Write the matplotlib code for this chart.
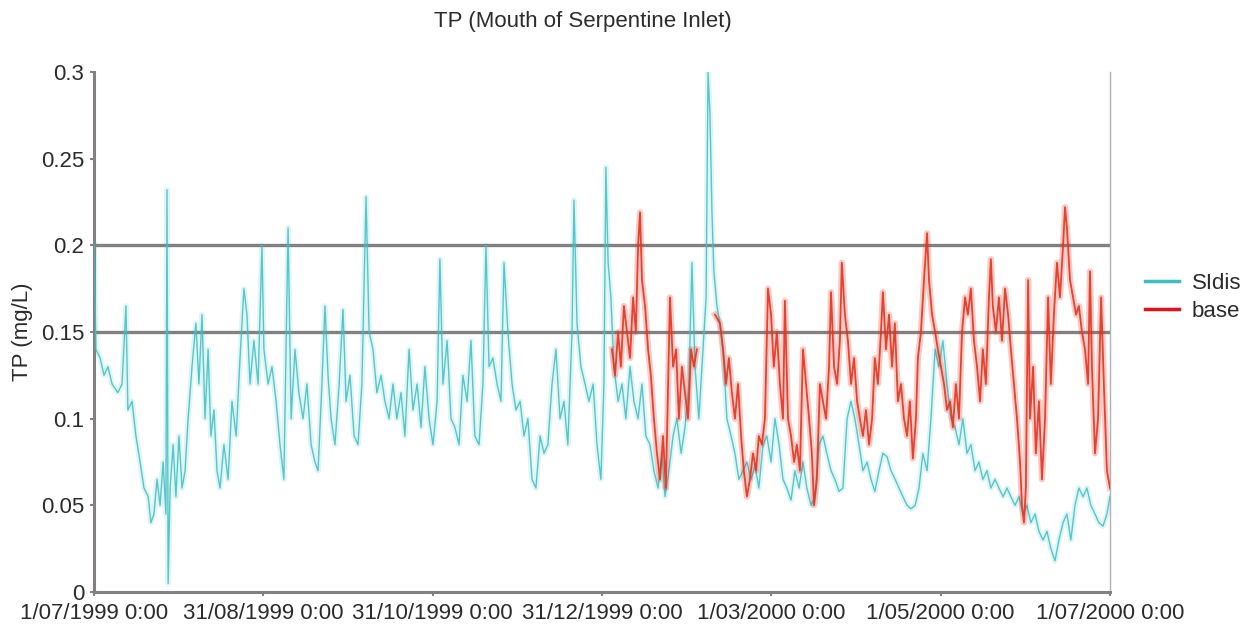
import matplotlib
matplotlib.use('Agg')
import matplotlib.pyplot as plt
import numpy as np
import pandas as pd

# TP at the mouth of Serpentine Inlet
# (day offset from 1/07/1999, TP in mg/L)
start = pd.Timestamp('1999-07-01')

sldis_days = [0.0, 0.7, 2.2, 3.6, 5.0, 6.5, 8.6, 10.1, 11.5, 12.2, 13.7, 15.1, 16.6, 18.0,
              19.5, 20.5, 21.6, 22.7, 23.8, 24.9, 25.9, 26.3, 26.7, 27.4, 28.5, 29.5, 30.6,
              31.7, 32.8, 33.9, 35.3, 36.7, 37.8, 38.9, 40.0, 41.1, 42.1, 43.2, 44.3, 45.4,
              46.8, 48.3, 49.7, 51.2, 52.6, 54.0, 55.1, 56.2, 57.6, 59.1, 60.5, 61.2, 62.7,
              64.1, 65.6, 67.0, 68.4, 69.9, 71.0, 72.4, 73.8, 75.3, 76.7, 78.2, 79.6, 80.7,
              82.1, 83.2, 84.3, 85.4, 86.8, 88.3, 89.7, 90.8, 92.2, 93.7, 95.1, 96.5, 98.0,
              99.1, 100.5, 101.9, 103.4, 104.8, 106.3, 107.7, 109.1, 110.6, 112.0, 113.5,
              114.9, 116.4, 117.8, 119.2, 120.7, 122.1, 123.6, 124.6, 125.7, 127.2, 128.6,
              130.0, 131.5, 132.9, 134.4, 135.8, 137.2, 138.7, 140.1, 141.2, 142.3, 143.7,
              145.2, 146.6, 147.7, 149.1, 150.6, 152.0, 153.5, 154.9, 156.3, 157.8, 159.2,
              160.7, 162.1, 163.5, 165.0, 166.4, 167.9, 169.3, 170.7, 172.2, 172.9, 174.0,
              175.4, 176.9, 178.3, 179.8, 181.2, 182.6, 183.7, 184.4, 185.2, 186.2, 187.3,
              188.8, 190.2, 191.6, 193.1, 194.5, 196.0, 197.4, 198.8, 200.3, 201.7, 203.2,
              204.6, 205.7, 207.1, 208.6, 210.0, 211.5, 212.9, 214.3, 215.4, 216.5, 217.9,
              219.4, 220.5, 221.2, 221.9, 222.6, 223.3, 224.4, 225.5, 226.6, 228.0, 229.5,
              230.9, 232.3, 233.8, 235.2, 236.7, 238.1, 239.5, 241.0, 242.4, 243.9, 245.3,
              246.8, 248.2, 249.6, 251.1, 252.5, 254.0, 255.4, 256.8, 258.3, 259.7, 261.2,
              262.6, 264.0, 265.5, 266.9, 268.4, 269.8, 271.3, 272.7, 274.1, 275.6, 277.0,
              278.5, 279.9, 281.3, 282.8, 284.2, 285.7, 287.1, 288.6, 290.0, 291.4, 292.9,
              294.3, 295.8, 297.2, 298.6, 300.1, 301.5, 303.0, 304.4, 305.8, 307.3, 308.7,
              310.2, 311.6, 313.0, 314.5, 315.9, 317.4, 318.8, 320.2, 321.7, 323.1, 324.6,
              326.0, 327.5, 328.9, 330.3, 331.8, 333.2, 334.7, 336.1, 337.5, 339.0, 340.4,
              341.9, 343.3, 344.7, 346.2, 347.6, 349.1, 350.5, 351.9, 353.4, 354.8, 356.3,
              357.7, 359.1, 360.6, 362.0, 363.5, 364.9, 366.0]
sldis_tp = [0.20, 0.14, 0.135, 0.125, 0.13, 0.12, 0.115, 0.12, 0.165, 0.105, 0.11, 0.09, 0.075, 0.06,
            0.055, 0.04, 0.045, 0.065, 0.05, 0.075, 0.045, 0.232, 0.005, 0.06, 0.085, 0.055, 0.09,
            0.06, 0.07, 0.10, 0.13, 0.155, 0.12, 0.16, 0.10, 0.14, 0.09, 0.105, 0.07, 0.06,
            0.085, 0.065, 0.11, 0.09, 0.135, 0.175, 0.16, 0.12, 0.145, 0.12, 0.20, 0.14, 0.12,
            0.13, 0.11, 0.085, 0.065, 0.21, 0.10, 0.14, 0.115, 0.10, 0.12, 0.085, 0.075, 0.07,
            0.12, 0.165, 0.125, 0.10, 0.085, 0.12, 0.163, 0.11, 0.125, 0.09, 0.085, 0.12, 0.228,
            0.15, 0.14, 0.115, 0.125, 0.11, 0.10, 0.12, 0.10, 0.115, 0.09, 0.14,
            0.105, 0.12, 0.095, 0.13, 0.10, 0.085, 0.11, 0.192, 0.12, 0.145, 0.10,
            0.095, 0.085, 0.125, 0.11, 0.145, 0.09, 0.085, 0.12, 0.20, 0.13, 0.135,
            0.12, 0.11, 0.19, 0.15, 0.12, 0.105, 0.11, 0.09, 0.10, 0.065, 0.06,
            0.09, 0.08, 0.085, 0.12, 0.14, 0.10, 0.11, 0.085, 0.15, 0.226, 0.155,
            0.13, 0.12, 0.11, 0.12, 0.085, 0.065, 0.12, 0.245, 0.19, 0.17, 0.13,
            0.11, 0.12, 0.10, 0.13, 0.11, 0.10, 0.12, 0.09, 0.085, 0.07, 0.06,
            0.08, 0.055, 0.07, 0.09, 0.10, 0.08, 0.095, 0.12, 0.19, 0.13, 0.10,
            0.14, 0.17, 0.30, 0.275, 0.22, 0.185, 0.165, 0.155, 0.14, 0.10, 0.09,
            0.08, 0.065, 0.07, 0.075, 0.065, 0.073, 0.06, 0.085, 0.09, 0.075, 0.10,
            0.085, 0.065, 0.06, 0.053, 0.07, 0.06, 0.075, 0.06, 0.05, 0.055, 0.085,
            0.09, 0.08, 0.07, 0.065, 0.058, 0.06, 0.10, 0.11, 0.10, 0.085, 0.07,
            0.075, 0.065, 0.058, 0.07, 0.08, 0.078, 0.07, 0.065, 0.06, 0.055, 0.05,
            0.048, 0.05, 0.06, 0.08, 0.07, 0.10, 0.14, 0.13, 0.145, 0.12, 0.10,
            0.095, 0.085, 0.10, 0.08, 0.085, 0.07, 0.075, 0.065, 0.07, 0.06, 0.065,
            0.06, 0.055, 0.06, 0.055, 0.05, 0.055, 0.045, 0.05, 0.04, 0.045, 0.035,
            0.03, 0.035, 0.025, 0.018, 0.03, 0.04, 0.045, 0.03, 0.05, 0.06, 0.055,
            0.06, 0.05, 0.045, 0.04, 0.038, 0.045, 0.055]

# base: nan marks the stretch hidden under the SIdis spike
base_days = [186.6, 187.7, 188.8, 189.8, 190.9, 192.0, 193.1, 194.2, 195.2, 196.0, 196.7, 197.4,
             198.5, 199.6, 200.6, 201.7, 202.8, 203.9, 205.0, 206.0, 206.8, 207.5, 208.6, 209.7,
             210.7, 211.8, 212.9, 214.0, 215.1, 216.1, 217.2, 220.1, 223.7, 225.5, 226.6, 227.7,
             228.7, 229.8, 230.9, 232.0, 233.1, 234.1, 235.2, 236.3, 237.4, 238.5, 239.5, 240.6,
             241.7, 242.8, 243.9, 244.9, 246.0, 247.1, 248.2, 248.9, 250.0, 251.1, 252.2, 253.2,
             254.3, 255.4, 256.5, 257.6, 258.6, 259.4, 260.4, 261.5, 262.6, 263.7, 264.8, 265.5,
             266.6, 267.7, 268.7, 269.4, 270.5, 271.6, 272.7, 273.8, 274.9, 275.9, 277.0, 278.1,
             279.2, 280.3, 281.3, 282.4, 283.5, 284.2, 285.3, 286.4, 287.5, 288.5, 289.6, 290.7,
             291.8, 292.9, 293.9, 295.0, 296.1, 296.8, 297.9, 299.0, 300.1, 300.8, 301.9, 303.0,
             304.0, 305.1, 306.2, 307.3, 308.4, 309.4, 310.5, 311.6, 312.7, 313.8, 314.8, 315.9,
             317.0, 318.1, 319.2, 320.2, 321.3, 322.4, 323.1, 323.8, 324.9, 326.0, 327.1, 328.2,
             329.3, 330.3, 331.4, 332.5, 333.6, 334.3, 335.0, 335.7, 336.5, 337.2, 338.3, 339.3,
             340.4, 341.5, 342.6, 343.7, 344.7, 345.8, 346.9, 348.0, 349.1, 349.8, 350.5, 351.6,
             352.7, 353.8, 354.8, 355.9, 357.0, 358.1, 358.8, 359.5, 360.6, 361.7, 362.8, 363.8,
             364.9, 366.0]
base_tp = [0.14, 0.125, 0.15, 0.13, 0.165, 0.15, 0.135, 0.17, 0.15, 0.20, 0.219, 0.18,
           0.165, 0.14, 0.125, 0.10, 0.08, 0.065, 0.09, 0.06, 0.12, 0.17, 0.13, 0.14,
           0.10, 0.13, 0.115, 0.10, 0.14, 0.13, 0.14, np.nan, 0.16, 0.155, 0.14, 0.12,
           0.135, 0.115, 0.10, 0.12, 0.09, 0.07, 0.055, 0.065, 0.08, 0.07, 0.09, 0.085,
           0.10, 0.175, 0.16, 0.13, 0.15, 0.12, 0.10, 0.168, 0.10, 0.09, 0.075, 0.085,
           0.07, 0.14, 0.12, 0.10, 0.08, 0.05, 0.065, 0.12, 0.11, 0.10, 0.13, 0.173,
           0.13, 0.12, 0.145, 0.19, 0.16, 0.145, 0.12, 0.135, 0.11, 0.10, 0.09, 0.105,
           0.085, 0.10, 0.135, 0.12, 0.15, 0.173, 0.14, 0.16, 0.13, 0.155, 0.11, 0.12,
           0.10, 0.09, 0.11, 0.077, 0.10, 0.135, 0.15, 0.18, 0.207, 0.18, 0.16, 0.15,
           0.14, 0.13, 0.12, 0.105, 0.11, 0.095, 0.12, 0.10, 0.15, 0.17, 0.16, 0.175,
           0.145, 0.13, 0.11, 0.14, 0.12, 0.17, 0.192, 0.165, 0.15, 0.17, 0.145, 0.175,
           0.16, 0.14, 0.12, 0.10, 0.075, 0.05, 0.04, 0.06, 0.18, 0.10, 0.13, 0.08,
           0.11, 0.065, 0.10, 0.17, 0.12, 0.16, 0.19, 0.17, 0.20, 0.222, 0.21, 0.18,
           0.17, 0.16, 0.165, 0.15, 0.14, 0.12, 0.185, 0.13, 0.08, 0.10, 0.17, 0.12,
           0.07, 0.06]

guide_levels = [0.15, 0.2]
y_ticks = [0, 0.05, 0.1, 0.15, 0.2, 0.25, 0.3]
y_tick_labels = ['0', '0.05', '0.1', '0.15', '0.2', '0.25', '0.3']
tick_dates = ['1999-07-01', '1999-08-31', '1999-10-31', '1999-12-31',
              '2000-03-01', '2000-05-01', '2000-07-01']
tick_labels = ['1/07/1999 0:00', '31/08/1999 0:00', '31/10/1999 0:00', '31/12/1999 0:00',
               '1/03/2000 0:00', '1/05/2000 0:00', '1/07/2000 0:00']

plt.rcParams['font.family'] = ['Liberation Sans', 'DejaVu Sans']

sldis_t = start + pd.to_timedelta(sldis_days, unit='D')
base_t = start + pd.to_timedelta(base_days, unit='D')

fig = plt.figure(figsize=(12.42, 6.29), dpi=100)
ax = fig.add_axes([0.0757, 0.0588, 0.818, 0.8267])

cyan = '#3dbfc2'
red = '#e4331f'
grey = '#858080'
txt = '#2b2b2b'
fs = 16

# guide lines at 0.15 and 0.2
for lvl in guide_levels:
    ax.axhline(lvl, color=grey, lw=2.4, zorder=1)

# soft halo + core line to mimic the dense, blurred traces
ax.plot(sldis_t, sldis_tp, color=cyan, lw=4.0, alpha=0.16, zorder=2)
ax.plot(sldis_t, sldis_tp, color=cyan, lw=1.0, alpha=0.85, zorder=3)
ax.plot(base_t, base_tp, color=red, lw=4.5, alpha=0.25, zorder=4)
ax.plot(base_t, base_tp, color=red, lw=1.3, alpha=0.9, zorder=5)

ax.set_xlim(pd.Timestamp('1999-07-01'), pd.Timestamp('2000-07-01'))
ax.set_ylim(0, 0.3)
ax.set_xticks(pd.to_datetime(tick_dates))
ax.set_xticklabels(tick_labels)
ax.set_yticks(y_ticks)
ax.set_yticklabels(y_tick_labels)
ax.tick_params(axis='both', labelsize=fs, colors=grey, labelcolor=txt, length=3, width=1.5)
ax.tick_params(axis='x', pad=5)
ax.tick_params(axis='y', pad=4)

for side in ['left', 'bottom']:
    ax.spines[side].set_color(grey)
    ax.spines[side].set_linewidth(2.2)
ax.spines['top'].set_visible(False)
ax.spines['right'].set_color('#b5b0b0')
ax.spines['right'].set_linewidth(1.0)

ax.set_ylabel('TP (mg/L)', fontsize=fs, color=txt, labelpad=6)
fig.text(0.469, 0.966, 'TP (Mouth of Serpentine Inlet)', ha='center', va='center',
         fontsize=fs, color=txt)

handles = [plt.Line2D([], [], color='#3cbfc0', lw=2.5),
           plt.Line2D([], [], color='#e3101d', lw=2.5)]
fig.legend(handles, ['SIdis', 'base'], loc='center left', bbox_to_anchor=(0.906, 0.527),
           frameon=False, fontsize=fs, handlelength=1.5, handletextpad=0.6,
           labelspacing=0.3, labelcolor=txt)

fig.savefig('out.png', dpi=100)
